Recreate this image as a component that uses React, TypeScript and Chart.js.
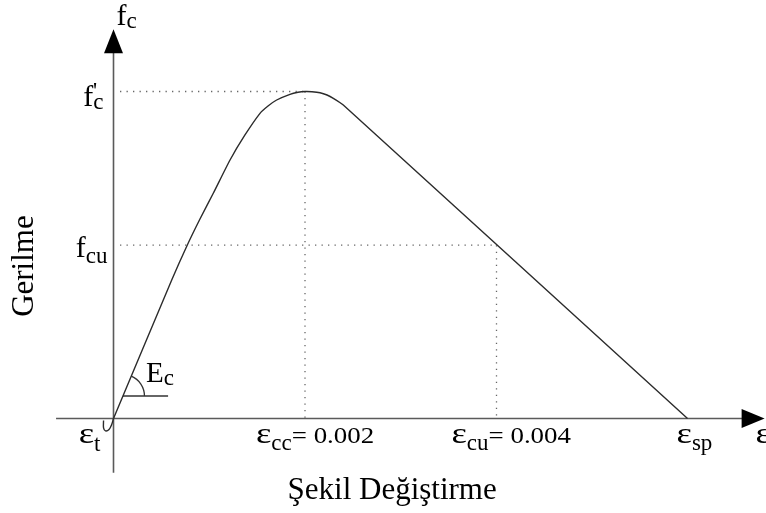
import { useEffect, useRef } from 'react';
import { Chart, registerables } from 'chart.js';

Chart.register(...registerables);

// Stress-strain curve (strain, normalised stress f/f'c); first points form the small tension hook
const strain = [-0.000104, -0.000104, -0.000084, -0.000047, -0.000021, 0, 0.000608, 0.000771, 0.000903, 0.001042, 0.001217, 0.001373, 0.00153, 0.001614, 0.001704, 0.001843, 0.001927, 0.002, 0.002073, 0.002157, 0.00223, 0.002296, 0.0024, 0.005995];
const stress = [-0.006, -0.029, -0.038, -0.034, -0.02, 0, 0.4235, 0.5306, 0.6101, 0.6887, 0.7905, 0.867, 0.9333, 0.9557, 0.974, 0.9914, 0.9976, 1, 0.9994, 0.9963, 0.9893, 0.9792, 0.9587, 0];
const hookEnd = 5; // index where the tension hook meets the origin

// Reference levels
const refStrain = [0.002, 0.004];       // εcc, εcu
const refStress = [1, 0.53];            // f'c, fcu
const ecStress = 0.0688;                // level of the Ec angle marker
const ecStrainEnd = 0.00057;
const ecSlopeIndex = 6;                 // point used for the initial tangent

// Axis extents (data units)
const xAxisRange = [-0.0006, 0.0068];
const yAxisRange = [-0.166, 1.19];
const xScaleRange = [-0.0011854, 0.0068146];
const yScaleRange = [-0.28899, 1.27982];

// Labels
const xAxisTitle = 'Şekil Değiştirme';
const yAxisTitle = 'Gerilme';
const xTickLabels = [
  { sym: 'ε', sub: 't', tail: '' },
  { sym: 'ε', sub: 'cc', tail: '= 0.002' },
  { sym: 'ε', sub: 'cu', tail: '= 0.004' },
  { sym: 'ε', sub: 'sp', tail: '' },
];
const yTickLabels = [
  { sym: 'f', sub: 'c' },
  { sym: 'f', sub: 'cu' },
];

const SERIF = '"Liberation Serif", "Times New Roman", serif';

type Part = { t: string; size: number; dy: number; sx?: number; dx?: number };

function drawParts(
  ctx: CanvasRenderingContext2D,
  x: number,
  y: number,
  parts: Part[],
  align: 'left' | 'right' | 'center'
) {
  let total = 0;
  const widths = parts.map((p) => {
    ctx.font = `${p.size}px ${SERIF}`;
    const w = ctx.measureText(p.t).width * (p.sx || 1) + (p.dx || 0);
    total += w;
    return w;
  });
  let cx = align === 'left' ? x : align === 'right' ? x - total : x - total / 2;
  ctx.textAlign = 'left';
  ctx.textBaseline = 'alphabetic';
  parts.forEach((p, i) => {
    ctx.font = `${p.size}px ${SERIF}`;
    ctx.save();
    ctx.translate(cx + (p.dx || 0), y + p.dy);
    ctx.scale(p.sx || 1, 1);
    ctx.fillText(p.t, 0, 0);
    ctx.restore();
    cx += widths[i];
  });
}

const diagramPlugin = {
  id: 'diagram',
  beforeDatasetsDraw(chart: any) {
    const ctx: CanvasRenderingContext2D = chart.ctx;
    const xs = chart.scales.x;
    const ys = chart.scales.y;
    const X = (v: number) => xs.getPixelForValue(v);
    const Y = (v: number) => ys.getPixelForValue(v);
    const x0 = X(0);
    const y0 = Y(0);
    ctx.save();
    // axes
    ctx.strokeStyle = '#5a5a5a';
    ctx.lineWidth = 1.6;
    ctx.beginPath();
    ctx.moveTo(X(xAxisRange[0]), y0);
    ctx.lineTo(X(xAxisRange[1]) - 10, y0);
    ctx.moveTo(x0, Y(yAxisRange[0]));
    ctx.lineTo(x0, Y(yAxisRange[1]) + 10);
    ctx.stroke();
    // arrow heads
    ctx.fillStyle = '#000';
    const xt = X(xAxisRange[1]);
    ctx.beginPath();
    ctx.moveTo(xt, y0);
    ctx.lineTo(xt - 23, y0 - 9.5);
    ctx.lineTo(xt - 23, y0 + 9.5);
    ctx.closePath();
    ctx.fill();
    const yt = Y(yAxisRange[1]);
    ctx.beginPath();
    ctx.moveTo(x0, yt);
    ctx.lineTo(x0 - 9.5, yt + 24);
    ctx.lineTo(x0 + 9.5, yt + 24);
    ctx.closePath();
    ctx.fill();
    // Ec marker
    const px1 = X(strain[ecSlopeIndex]);
    const py1 = Y(stress[ecSlopeIndex]);
    const ey = Y(ecStress);
    const slope = (py1 - y0) / (px1 - x0);
    const ex = x0 + (ey - y0) / slope;
    ctx.strokeStyle = '#333';
    ctx.lineWidth = 1.3;
    ctx.beginPath();
    ctx.moveTo(ex, ey);
    ctx.lineTo(X(ecStrainEnd), ey);
    ctx.stroke();
    const ang = Math.atan2(py1 - y0, px1 - x0);
    ctx.beginPath();
    ctx.arc(ex, ey, 21.5, ang, 0);
    ctx.stroke();
    ctx.restore();
  },
  afterDatasetsDraw(chart: any) {
    const ctx: CanvasRenderingContext2D = chart.ctx;
    const xs = chart.scales.x;
    const ys = chart.scales.y;
    const X = (v: number) => xs.getPixelForValue(v);
    const Y = (v: number) => ys.getPixelForValue(v);
    const x0 = X(0);
    const y0 = Y(0);
    ctx.save();
    ctx.fillStyle = '#000';
    const M = 30, S = 23;
    const eps: Part = { t: 'ε', size: 30, dy: 0, sx: 1.22 };
    // y labels
    drawParts(ctx, x0 + 3, Y(yAxisRange[1]) - 4, [
      { t: 'f', size: M, dy: 0 },
      { t: 'c', size: S, dy: 3 },
    ], 'left');
    const yl0 = yTickLabels[0];
    drawParts(ctx, x0 - 10, Y(refStress[0]) + 14, [
      { t: yl0.sym, size: M, dy: 0 },
      { t: yl0.sub, size: S, dy: 3 },
    ], 'right');
    ctx.font = `${S}px ${SERIF}`;
    ctx.fillText("'", x0 - 20.5, Y(refStress[0]) + 6);
    const yl1 = yTickLabels[1];
    drawParts(ctx, x0 - 6, Y(refStress[1]) + 12, [
      { t: yl1.sym, size: M, dy: 0 },
      { t: yl1.sub, size: S, dy: 6 },
    ], 'right');
    // x labels
    const base = y0 + 24.5;
    const tail = (t: string): Part => ({ t, size: 24, dy: 0, sx: 1.12 });
    const l0 = xTickLabels[0];
    drawParts(ctx, x0 - 13, base, [
      { ...eps, t: l0.sym },
      { t: l0.sub, size: S, dy: 8 },
    ], 'right');
    const l1 = xTickLabels[1];
    drawParts(ctx, X(refStrain[0]) - 49, base, [
      { ...eps, t: l1.sym },
      { t: l1.sub, size: S, dy: 7 },
      tail(l1.tail),
    ], 'left');
    const l2 = xTickLabels[2];
    drawParts(ctx, X(refStrain[1]) - 45, base, [
      { ...eps, t: l2.sym },
      { t: l2.sub, size: S, dy: 7 },
      tail(l2.tail),
    ], 'left');
    const l3 = xTickLabels[3];
    drawParts(ctx, X(strain[strain.length - 1]) - 11, base, [
      { ...eps, t: l3.sym },
      { t: l3.sub, size: S, dy: 7 },
    ], 'left');
    drawParts(ctx, X(xAxisRange[1]) - 9, base, [{ ...eps }], 'left');
    // Ec
    drawParts(ctx, X(0.00034), Y(ecStress) - 14, [
      { t: 'E', size: 29, dy: 0 },
      { t: 'c', size: S, dy: 3 },
    ], 'left');
    // titles
    ctx.font = `31px ${SERIF}`;
    ctx.textAlign = 'center';
    ctx.textBaseline = 'alphabetic';
    ctx.fillText(xAxisTitle, X(0.00291), y0 + 80);
    ctx.save();
    ctx.translate(33, (Y(yAxisRange[0]) + Y(yAxisRange[1])) / 2 + 15);
    ctx.rotate(-Math.PI / 2);
    ctx.fillText(yAxisTitle, 0, 0);
    ctx.restore();
    ctx.restore();
  },
};

export default function App() {
  const ref = useRef<HTMLCanvasElement | null>(null);
  useEffect(() => {
    if (!ref.current) return;
    const dotted = {
      borderColor: '#666',
      borderWidth: 1.3,
      borderDash: [1.3, 5.2],
      pointRadius: 0,
      showLine: true,
      fill: false,
    };
    const pts = strain.map((s, i) => ({ x: s, y: stress[i] }));
    const curve = {
      borderColor: '#2b2b2b',
      borderWidth: 1.4,
      pointRadius: 0,
      showLine: true,
      fill: false,
    };
    const chart = new Chart(ref.current, {
      type: 'scatter',
      data: {
        datasets: [
          { ...curve, data: pts.slice(0, hookEnd + 1), tension: 0.3 },
          { ...curve, data: pts.slice(hookEnd), tension: 0.2 },
          { ...dotted, data: [{ x: 0.000068, y: refStress[0] }, { x: refStrain[0], y: refStress[0] }] },
          { ...dotted, data: [{ x: refStrain[0], y: refStress[0] }, { x: refStrain[0], y: 0 }] },
          { ...dotted, data: [{ x: 0.000068, y: refStress[1] }, { x: refStrain[1], y: refStress[1] }] },
          { ...dotted, data: [{ x: refStrain[1], y: refStress[1] }, { x: refStrain[1], y: 0 }] },
        ],
      },
      options: {
        responsive: false,
        animation: false,
        events: [],
        layout: { padding: 0 },
        plugins: { legend: { display: false }, tooltip: { enabled: false } },
        scales: {
          x: { type: 'linear', display: false, min: xScaleRange[0], max: xScaleRange[1] },
          y: { type: 'linear', display: false, min: yScaleRange[0], max: yScaleRange[1] },
        },
      },
      plugins: [diagramPlugin],
    });
    return () => chart.destroy();
  }, []);
  return (
    <div style={{ position: 'absolute', left: 0, top: 0, width: 766, height: 513, background: '#fff' }}>
      <canvas ref={ref} width={766} height={513} />
    </div>
  );
}
